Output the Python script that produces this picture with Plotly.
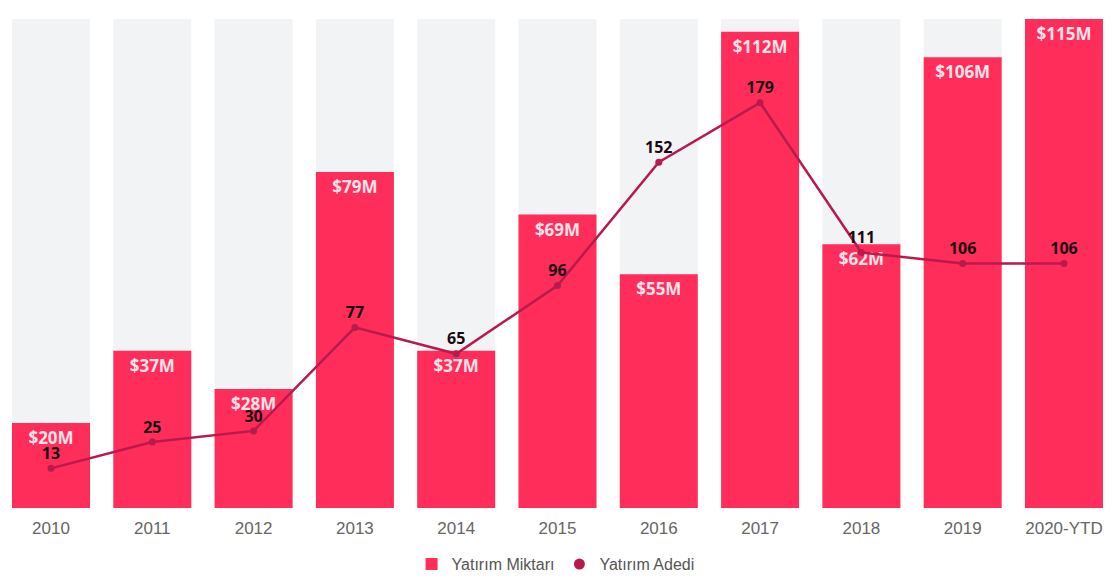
import plotly.graph_objects as go

years = ["2010", "2011", "2012", "2013", "2014", "2015", "2016", "2017", "2018", "2019", "2020-YTD"]
amount_musd = [20, 37, 28, 79, 37, 69, 55, 112, 62, 106, 115]
deal_count = [13, 25, 30, 77, 65, 96, 152, 179, 111, 106, 106]
amount_labels = ["$20M", "$37M", "$28M", "$79M", "$37M", "$69M", "$55M", "$112M", "$62M", "$106M", "$115M"]

bg_max = max(amount_musd)
bar_color = "#ff2d5a"
line_color = "#b81a4c"

fig = go.Figure()

fig.add_trace(go.Bar(
    x=years, y=[bg_max] * len(years),
    marker=dict(color="#f1f3f4", line=dict(width=0)),
    width=0.77, showlegend=False, hoverinfo="skip",
))

fig.add_trace(go.Bar(
    x=years, y=amount_musd, name="Yatırım Miktarı",
    marker=dict(color=bar_color, line=dict(width=0)),
    width=0.77,
    text=amount_labels, textposition="inside", insidetextanchor="end",
    textfont=dict(family="Open Sans", size=17, color="#fde3ea", weight="bold"),
    constraintext="none",
))

fig.add_trace(go.Scatter(
    x=years, y=deal_count, name="Yatırım Adedi", yaxis="y2",
    mode="lines+markers+text",
    line=dict(color=line_color, width=2.5),
    marker=dict(color=line_color, size=7),
    text=[str(v) for v in deal_count], textposition="top center",
    textfont=dict(family="Open Sans", size=16, color="#1a0a10", weight="bold"),
    showlegend=False,
))

# legend-only entry (marker symbol without line)
fig.add_trace(go.Scatter(
    x=[None], y=[None], name="Yatırım Adedi", yaxis="y2",
    mode="markers", marker=dict(color=line_color, size=11),
    showlegend=True,
))

fig.update_layout(
    width=1104, height=571,
    margin=dict(l=0, r=0, t=11, b=71, autoexpand=False),
    paper_bgcolor="white", plot_bgcolor="white",
    barmode="overlay",
    font=dict(family="Liberation Sans", color="#555555", size=14),
    xaxis=dict(type="category", range=[-0.4245, 10.474], showgrid=False, showline=False,
               ticks="", automargin=False, ticklabeloverflow="allow", ticklabelstandoff=8,
               tickfont=dict(family="Liberation Sans", size=17, color="#666666")),
    yaxis=dict(range=[0, 115], visible=False, showgrid=False, automargin=False),
    yaxis2=dict(range=[-5, 217], overlaying="y", visible=False, showgrid=False, automargin=False),
    legend=dict(orientation="h", x=0.496, xanchor="center", y=-0.08, yanchor="top",
                font=dict(family="Liberation Sans", size=16, color="#555555")),
    showlegend=True,
)

fig.write_html("out.html")
